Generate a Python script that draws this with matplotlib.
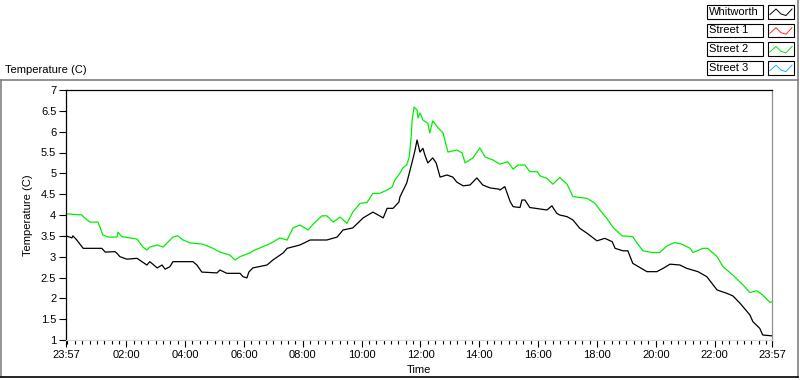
import matplotlib
matplotlib.use("Agg")
import matplotlib.pyplot as plt
from matplotlib.lines import Line2D
from matplotlib.patches import Rectangle
from matplotlib.ticker import FormatStrFormatter

plt.rcParams['font.family'] = ['Liberation Sans Narrow', 'Liberation Sans', 'DejaVu Sans']

# minutes after 23:57 (start of the record), temperature in C
whit_t = [0, 12, 14, 22, 35, 73, 80, 100, 104, 110, 124, 145, 155, 165, 171, 186, 196, 202,
          212, 218, 259, 267, 277, 308, 314, 328, 355, 361, 369, 373, 381, 410, 422, 443,
          451, 477, 498, 532, 553, 565, 585, 606, 626, 647, 655, 667, 679, 681, 695, 706,
          712, 716, 722, 728, 732, 738, 748, 755, 763, 777, 789, 797, 810, 824, 838, 850,
          865, 883, 885, 895, 906, 912, 926, 930, 936, 946, 981, 991, 1001, 1007, 1022,
          1034, 1048, 1063, 1083, 1099, 1114, 1120, 1136, 1146, 1156, 1185, 1205, 1218,
          1232, 1252, 1266, 1289, 1307, 1328, 1348, 1360, 1375, 1395, 1401, 1415, 1421, 1440]
whit_v = [3.50, 3.45, 3.50, 3.40, 3.20, 3.20, 3.11, 3.12, 3.08, 3.00, 2.94, 2.96, 2.88, 2.80,
          2.88, 2.73, 2.80, 2.70, 2.76, 2.88, 2.88, 2.80, 2.63, 2.61, 2.68, 2.60, 2.60, 2.52,
          2.49, 2.63, 2.73, 2.80, 2.92, 3.09, 3.20, 3.28, 3.40, 3.40, 3.47, 3.64, 3.69, 3.93,
          4.07, 3.93, 4.16, 4.16, 4.31, 4.43, 4.77, 5.27, 5.56, 5.80, 5.51, 5.60, 5.44, 5.25,
          5.37, 5.25, 4.91, 4.96, 4.91, 4.79, 4.70, 4.72, 4.89, 4.72, 4.65, 4.62, 4.60, 4.68,
          4.32, 4.20, 4.18, 4.36, 4.36, 4.18, 4.12, 4.22, 4.04, 4.00, 3.96, 3.88, 3.68, 3.56,
          3.38, 3.44, 3.36, 3.20, 3.14, 3.14, 2.84, 2.64, 2.64, 2.72, 2.82, 2.80, 2.72, 2.64,
          2.52, 2.20, 2.12, 2.06, 1.88, 1.60, 1.44, 1.28, 1.12, 1.10]

st2_t = [0, 33, 35, 43, 49, 65, 69, 75, 86, 104, 106, 114, 131, 145, 157, 165, 171, 186, 198,
         208, 218, 228, 239, 253, 279, 300, 314, 334, 345, 355, 375, 385, 410, 422, 436, 451,
         463, 477, 494, 504, 522, 532, 545, 559, 573, 585, 600, 614, 626, 640, 655, 665, 671,
         681, 687, 695, 700, 704, 706, 710, 716, 718, 722, 728, 738, 742, 748, 759, 769, 779,
         797, 808, 814, 830, 844, 855, 871, 885, 901, 912, 922, 936, 946, 961, 967, 981, 993,
         1007, 1022, 1034, 1063, 1079, 1089, 1103, 1116, 1134, 1156, 1165, 1177, 1195, 1211,
         1226, 1242, 1256, 1273, 1279, 1299, 1309, 1328, 1340, 1360, 1381, 1395, 1409, 1421,
         1436, 1440]
st2_v = [4.03, 4.00, 3.96, 3.88, 3.83, 3.83, 3.72, 3.52, 3.47, 3.47, 3.59, 3.48, 3.45, 3.42,
         3.23, 3.16, 3.23, 3.28, 3.23, 3.35, 3.47, 3.50, 3.40, 3.33, 3.30, 3.20, 3.11, 3.04,
         2.92, 3.00, 3.09, 3.16, 3.28, 3.35, 3.45, 3.40, 3.69, 3.76, 3.64, 3.78, 3.98, 3.98,
         3.83, 3.95, 3.80, 4.07, 4.28, 4.30, 4.52, 4.52, 4.60, 4.67, 4.84, 5.00, 5.13, 5.20,
         5.39, 5.87, 6.28, 6.59, 6.52, 6.33, 6.45, 6.28, 6.20, 5.97, 6.26, 6.09, 5.97, 5.51,
         5.56, 5.49, 5.25, 5.37, 5.61, 5.39, 5.32, 5.22, 5.28, 5.10, 5.20, 5.20, 5.04, 5.04,
         4.94, 4.88, 4.74, 4.90, 4.74, 4.44, 4.40, 4.28, 4.12, 3.92, 3.70, 3.50, 3.48, 3.32,
         3.14, 3.10, 3.10, 3.26, 3.34, 3.30, 3.20, 3.10, 3.20, 3.20, 3.00, 2.76, 2.56, 2.32,
         2.14, 2.18, 2.08, 1.90, 1.92]

st1_t, st1_v = [], []
st3_t, st3_v = [], []

series = ["Whitworth", "Street 1", "Street 2", "Street 3"]
colors = ["#000000", "#ff3030", "#00ee00", "#20b0ff"]

x_major = [0, 123, 243, 363, 483, 603, 723, 843, 963, 1083, 1203, 1323, 1440]
x_labels = ["23:57", "02:00", "04:00", "06:00", "08:00", "10:00", "12:00",
            "14:00", "16:00", "18:00", "20:00", "22:00", "23:57"]
x_minor = list(range(3, 1440, 15))

W, H = 800, 380
fig = plt.figure(figsize=(W / 100, H / 100), dpi=100)


def fx(x):
    return x / W


def fy(y):
    return 1 - y / H


ax = fig.add_axes([fx(66), fy(340), fx(772) - fx(66), fy(90) - fy(340)])

ax.plot(whit_t, whit_v, color=colors[0], lw=0.9)
ax.plot(st1_t, st1_v, color=colors[1], lw=0.9)
ax.plot(st2_t, st2_v, color=colors[2], lw=0.9)
ax.plot(st3_t, st3_v, color=colors[3], lw=0.9)

ax.set_xlim(0, 1440)
ax.set_ylim(1, 7)
ax.set_yticks([1 + 0.5 * i for i in range(13)])
ax.yaxis.set_major_formatter(FormatStrFormatter('%g'))
ax.set_xticks(x_major)
ax.set_xticklabels(x_labels)
ax.set_xticks(x_minor, minor=True)
ax.tick_params(axis='both', which='major', direction='out', length=5, width=0.8,
               labelsize=8, pad=2)
ax.tick_params(axis='x', which='minor', direction='out', length=3, width=0.8)

ax.spines['left'].set_color('black')
ax.spines['top'].set_color('black')
ax.spines['right'].set_color('#909090')
ax.spines['bottom'].set_color('#d8d8d8')
for s in ax.spines.values():
    s.set_linewidth(0.9)

ax.set_ylabel("Temperature (C)", fontsize=8, labelpad=6)
ax.set_xlabel("Time", fontsize=8, labelpad=4)

# outer frame
frame = [((1, 80), (798, 80), '#808080'), ((1, 80), (1, 377), '#808080'),
         ((798, 0), (798, 377), '#808080'), ((1, 377), (798, 377), '#000000')]
for (x0, y0), (x1, y1), c in frame:
    fig.add_artist(Line2D([fx(x0), fx(x1)], [fy(y0), fy(y1)], color=c, lw=1.2,
                          transform=fig.transFigure))

fig.text(fx(5), fy(73), "Temperature (C)", fontsize=8, ha='left', va='baseline')

# legend boxes
for i, (name, c) in enumerate(zip(series, colors)):
    top = 5 + i * 18.7
    bot = top + 13.5
    fig.add_artist(Rectangle((fx(707), fy(bot)), fx(763) - fx(707), fy(top) - fy(bot),
                             transform=fig.transFigure, fill=False, ec='black', lw=0.8))
    fig.add_artist(Rectangle((fx(768), fy(bot)), fx(794) - fx(768), fy(top) - fy(bot),
                             transform=fig.transFigure, fill=False, ec='black', lw=0.8))
    fig.text(fx(709), fy((top + bot) / 2), name, fontsize=8, ha='left', va='center')
    zx = [770, 776, 781, 786, 792]
    zy = [bot - 4, top + 4, bot - 4.5, bot - 3, top + 4]
    fig.add_artist(Line2D([fx(v) for v in zx], [fy(v) for v in zy], color=c, lw=0.7,
                          transform=fig.transFigure))

fig.savefig("out.png", dpi=100)
